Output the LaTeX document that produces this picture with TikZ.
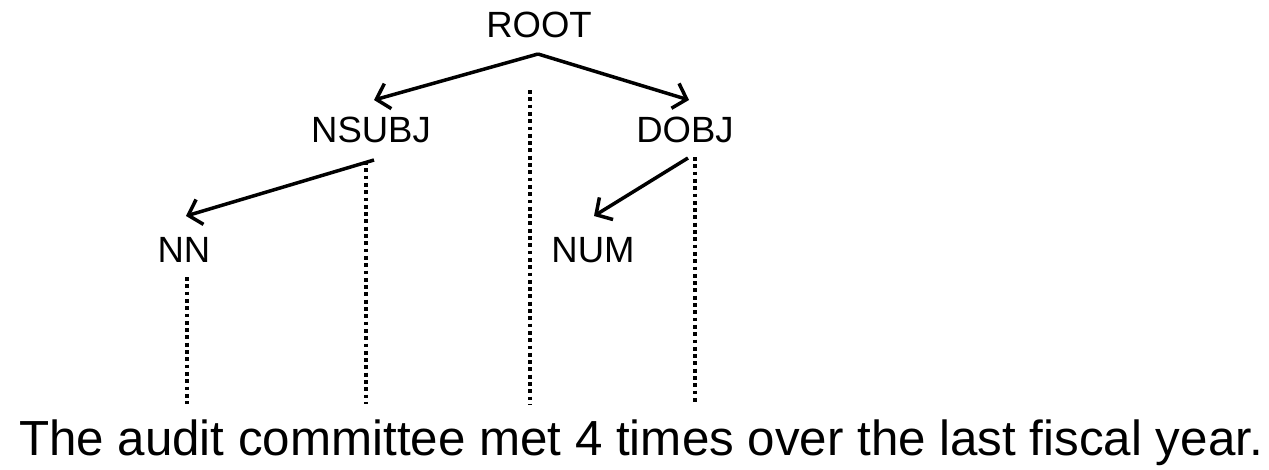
\documentclass[tikz,border=0pt]{standalone}
\usepackage{fontspec}
\setmainfont{Liberation Sans}
\usetikzlibrary{arrows.meta}
\begin{document}
\begin{tikzpicture}[x=1pt,y=-1pt,
  lbl/.style={inner sep=0pt,anchor=base,font=\fontsize{36.5}{40}\selectfont},
  sent/.style={inner sep=0pt,anchor=base,font=\fontsize{49.3}{55}\selectfont},
  arr/.style={line width=3.5pt,-{Straight Barb[length=12pt,width=26pt,line width=3.5pt]}},
  dots/.style={line width=4pt,dash pattern=on 3.8pt off 3.5pt}]
\useasboundingbox (0,0) rectangle (1269,469);
% labels
\node[lbl] (root) at (539,37) {ROOT};
\node[lbl] (nsubj) at (371,142) {NSUBJ};
\node[lbl] (dobj) at (685,142) {DOBJ};
\node[lbl] (nn) at (184,262) {NN};
\node[lbl] (num) at (593,262) {NUM};
\node[sent] (sentence) at (641,455) {The audit committee met 4 times over the last fiscal year.};
% arrow endpoints
\coordinate (rootsrc) at (538,54);
\coordinate (nsubjtip) at (374,100);
\coordinate (dobjtip) at (689,100);
\coordinate (nsubjsrc) at (374,160);
\coordinate (nntip) at (186,216);
\coordinate (dobjsrc) at (688,158);
\coordinate (numtip) at (594,216);
% arrows
\draw[arr] (rootsrc) -- (nsubjtip);
\draw[arr] (rootsrc) -- (dobjtip);
\draw[arr] (nsubjsrc) -- (nntip);
\draw[arr] (dobjsrc) -- (numtip);
% dotted projection lines
\coordinate (d1t) at (187,277); \coordinate (d1b) at (187,404);
\coordinate (d2t) at (366,161); \coordinate (d2b) at (366,404);
\coordinate (d3t) at (530,90);  \coordinate (d3b) at (530,404);
\coordinate (d4t) at (695,157); \coordinate (d4b) at (695,404);
\draw[dots] (d1t) -- (d1b);
\draw[dots] (d2t) -- (d2b);
\draw[dots] (d3t) -- (d3b);
\draw[dots] (d4t) -- (d4b);
\end{tikzpicture}
\end{document}
